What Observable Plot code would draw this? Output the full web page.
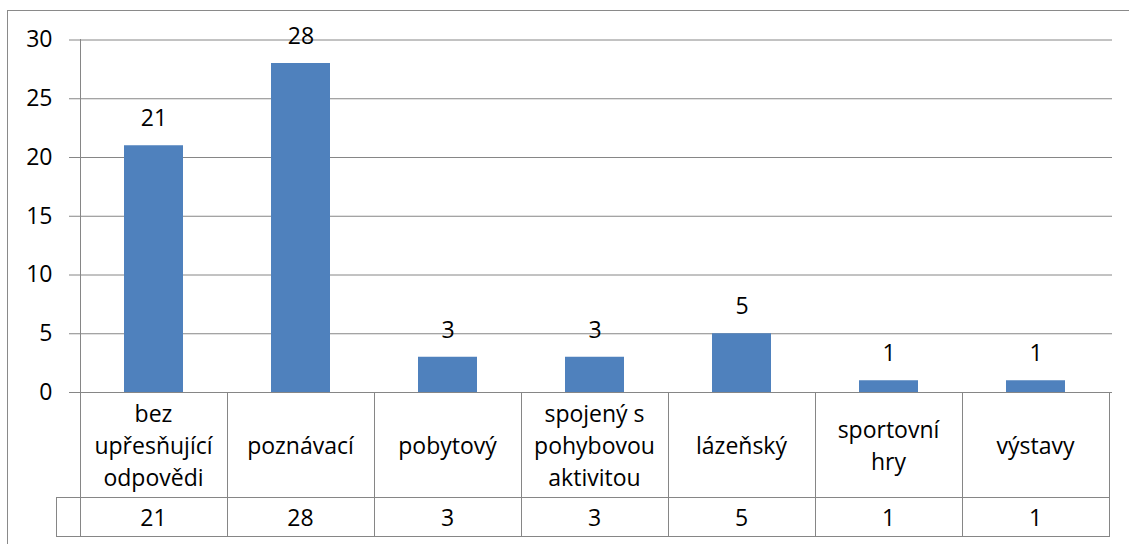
<!DOCTYPE html>
<html><head><meta charset="utf-8">
<script src="https://cdn.jsdelivr.net/npm/d3@7"></script>
<script src="https://cdn.jsdelivr.net/npm/@observablehq/plot@0.6"></script>
<style>
html,body{margin:0;padding:0;background:#fff;overflow:hidden;width:1129px;height:544px}
body{position:relative;font-family:"Open Sans",sans-serif}
#frame{position:absolute;left:7px;top:10px;width:1300px;height:800px;border:1px solid #8a8a8a;box-sizing:border-box}
#chart{position:absolute;left:0;top:0}
.cell{position:absolute;box-sizing:border-box;display:flex;align-items:center;justify-content:center;text-align:center;font-size:23px;color:#000;white-space:pre-line;line-height:32px;font-family:"Open Sans",sans-serif}
.line{position:absolute;background:#868686}
</style></head><body>
<div id="frame"></div>
<div id="chart"></div>
<div id="table"></div>
<script>
const categories = ["bez upřesňující odpovědi","poznávací","pobytový","spojený s pohybovou aktivitou","lázeňský","sportovní hry","výstavy"];
const tickLabels = ["bez\nupřesňující\nodpovědi","poznávací","pobytový","spojený s\npohybovou\naktivitou","lázeňský","sportovní\nhry","výstavy"];
const values = [21,28,3,3,5,1,1];
const yTicks = [0,5,10,15,20,25,30];

const data = categories.map((c,i)=>({category:c, value:values[i]}));
const gridColor = "#868686";

const chart = Plot.plot({
  width:1129, height:393,
  marginTop:39.5, marginBottom:1, marginLeft:77, marginRight:17,
  style:{fontFamily:"'Open Sans', sans-serif", fontSize:"23px", color:"#000", background:"transparent", overflow:"visible"},
  x:{domain:categories, paddingInner:0.6, paddingOuter:0.3, axis:null},
  y:{domain:[0,30], axis:null},
  marks:[
    Plot.gridY(yTicks, {stroke:gridColor, strokeOpacity:1}),
    Plot.axisY(yTicks, {label:null, tickSize:8, tickPadding:17, stroke:gridColor, strokeOpacity:1, fill:"#000", fontSize:23, tickFormat:d=>String(d)}),
    Plot.barY(data, {x:"category", y:"value", fill:"#4F81BD"}),
    Plot.text(data, {x:"category", y:"value", text:d=>String(d.value), dy:-27, lineAnchor:"middle", fontSize:23, fill:"#000"})
  ]
});
document.getElementById("chart").appendChild(chart);

// data table below the plot, aligned with the band scale
const xs = chart.scale("x");
const ys = chart.scale("y");
const step = xs.step, bw = xs.bandwidth;
const y0 = ys.apply(0), yTop = ys.apply(30);
const headerBottom = y0 + 105, tableBottom = headerBottom + 39;
const leftStub = 24;
const table = document.getElementById("table");
function line(x, y, w, h){ const d=document.createElement("div"); d.className="line"; Object.assign(d.style,{left:x+"px",top:y+"px",width:w+"px",height:h+"px"}); table.appendChild(d); }
function cell(x, y, w, h, txt){ const d=document.createElement("div"); d.className="cell"; Object.assign(d.style,{left:x+"px",top:y+"px",width:w+"px",height:h+"px"}); d.textContent=txt; table.appendChild(d); }
const x0 = xs.apply(categories[0]) - (step-bw)/2;
const xEnd = x0 + step*categories.length;
categories.forEach((c,i)=>{
  const left = xs.apply(c) - (step-bw)/2;
  cell(left, y0, step, headerBottom-y0, tickLabels[i]);
  cell(left, headerBottom, step, tableBottom-headerBottom, String(values[i]));
  line(Math.round(left+step), Math.floor(y0), 1, tableBottom-Math.floor(y0)+1);
});
line(Math.round(x0), Math.floor(yTop), 1, tableBottom-Math.floor(yTop)+1);
line(Math.round(x0)-leftStub, headerBottom, leftStub+(xEnd-x0)+1, 1);
line(Math.round(x0)-leftStub, tableBottom, leftStub+(xEnd-x0)+1, 1);
line(Math.round(x0)-leftStub, headerBottom, 1, tableBottom-headerBottom+1);
</script>
</body></html>
